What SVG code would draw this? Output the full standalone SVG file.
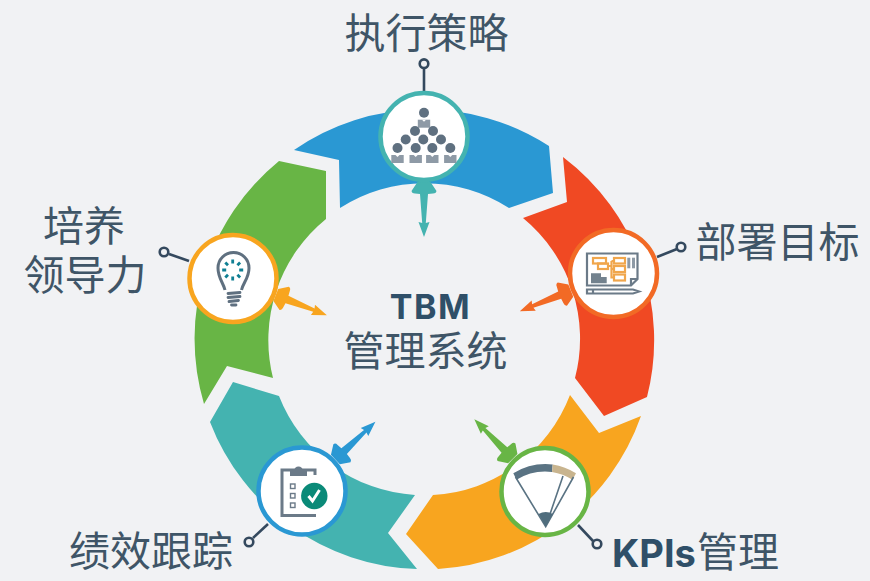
<svg xmlns="http://www.w3.org/2000/svg" xmlns:xlink="http://www.w3.org/1999/xlink" width="870" height="581" viewBox="0 0 870 581">
<style>
.t{font-family:"Noto Sans CJK SC","Noto Sans",sans-serif;font-size:41px;fill:#3f5567;text-anchor:middle}
.b{font-family:Inter,"Noto Sans",sans-serif;font-weight:700;fill:#2f4f68}
.stub{stroke:#34495e;stroke-width:2.6;fill:none}
.dot{stroke:#34495e;stroke-width:2.6;fill:#f1f2f4}
.disc{fill:#fff;stroke-width:4.5}
.head{fill:#5f7080}
.body{fill:#8e9aa6}
.g{fill:none;stroke:#6b7a88;stroke-width:2.200}
.o{fill:none;stroke:#f0a64c;stroke-width:2.200}
</style>
<defs>
<path id="arrow" d="M-6.500,0L-12.500,9Q-12,11.500-9,11.500L-4,12L-1.800,41L-5.500,40L0,55L5.500,40L1.800,41L4,12L9,11.500Q12,11.500,12.500,9L6.500,0Z"/>
<g id="person"><rect class="body" x="-6.200" y="7" width="12.400" height="8"/><path d="M-2,7L0,9L2,7Z" fill="#fff"/><circle class="head" cy="0" r="5"/></g>
</defs>
<rect width="870" height="581" fill="#f1f2f4"/>
<g id="ring">
<path fill="#2a98d3" d="M294,150A229.500,229.500,0,0,1,549,146L553,193L509,208A156,156,0,0,0,340,208L339,160Z"/>
<path fill="#f04923" d="M563,157A229.500,229.500,0,0,1,647,397L604,416L575,378A156,156,0,0,0,523,218L567,202Z"/>
<path fill="#f8a51f" d="M570,395L599,433L641,416A229.500,229.500,0,0,1,438,569L406,534L433,495A156,156,0,0,0,570,395Z"/>
<path fill="#44b3b0" d="M233,382L279,396A156,156,0,0,0,415,495L388,533L417,569A229.500,229.500,0,0,1,210,422Z"/>
<path fill="#68b545" d="M279,161L326,171L326,219A156,156,0,0,0,273,378L227,366L204,404A229.500,229.500,0,0,1,279,161Z"/>
</g>
<g id="connectors">
<use xlink:href="#arrow" href="#arrow" fill="#44b3b0" transform="translate(424,182)"/>
<use xlink:href="#arrow" href="#arrow" fill="#f26a25" transform="translate(570.800,290.600) rotate(68)"/>
<use xlink:href="#arrow" href="#arrow" fill="#68b545" transform="translate(512.800,458.600) rotate(135.600)"/>
<use xlink:href="#arrow" href="#arrow" fill="#2a98d3" transform="translate(335.400,459.400) rotate(-133.300)"/>
<use xlink:href="#arrow" href="#arrow" fill="#f8a51f" transform="translate(275.800,295) rotate(-68.300)"/>
<path class="stub" d="M424,91V68"/><circle class="dot" cx="424" cy="63.700" r="4.300"/>
<path class="stub" d="M657,257L677,249"/><circle class="dot" cx="681" cy="247" r="4.300"/>
<path class="stub" d="M578,525L593,541"/><circle class="dot" cx="597" cy="544" r="4.300"/>
<path class="stub" d="M268,524L253,538"/><circle class="dot" cx="249" cy="542" r="4.300"/>
<path class="stub" d="M189,261L169,254"/><circle class="dot" cx="164" cy="252" r="4.300"/>
</g>
<g id="node-strategy">
<circle class="disc" cx="424" cy="136.500" r="43.500" stroke="#44b3b0"/>
<use xlink:href="#person" href="#person" transform="translate(424,112.700)"/>
<use xlink:href="#person" href="#person" transform="translate(397.500,148)"/>
<use xlink:href="#person" href="#person" transform="translate(415.700,148)"/>
<use xlink:href="#person" href="#person" transform="translate(432.300,148)"/>
<use xlink:href="#person" href="#person" transform="translate(450.300,148)"/>
<g class="head"><circle cx="415" cy="131" r="5"/><circle cx="433" cy="131" r="5"/><circle cx="405.700" cy="139.500" r="5"/><circle cx="423.300" cy="139.500" r="5"/><circle cx="441" cy="139.500" r="5"/></g>
<text class="t" x="426.500" y="48">执行策略</text>
</g>
<g id="node-targets">
<circle class="disc" cx="613.500" cy="273.500" r="43.500" stroke="#f26a25"/>
<path class="g" d="M587,253.500H637.500V279L631,285.500H587Z"/><path class="g" d="M631,285.500V279H637.500"/>
<path d="M591,273.300H601V277H606.700V283.300H591Z" fill="#73828e"/>
<rect x="627.300" y="257.700" width="3" height="10.600" fill="#8e9aa6"/><rect x="632" y="257.700" width="3" height="10.600" fill="#8e9aa6"/>
<rect class="o" x="593" y="258" width="13" height="5.500"/><rect class="o" x="598" y="263.500" width="10" height="5.500"/>
<rect class="o" x="614" y="258" width="11" height="5.500"/><rect class="o" x="614" y="266" width="11" height="6"/><rect class="o" x="614" y="274.500" width="11" height="6"/>
<path class="o" d="M608,266H611.500M611.500,261V277.500H614M611.500,261H614M611.500,269H614"/>
<path class="g" d="M587,289.500H633L639,291.500L633,293.500H587Z"/><path class="g" d="M593,289.500V293.500" />
<text class="t" x="777.500" y="257">部署目标</text>
</g>
<g id="node-kpis">
<circle class="disc" cx="545" cy="491.500" r="43.500" stroke="#68b545"/>
<path d="M513.300,473.300A62,62,0,0,1,552.700,464.500L552,472A55,55,0,0,0,516.500,479.800Z" fill="#5a7383"/>
<path d="M552.700,464.500A62,62,0,0,1,576,473.300L572.500,479.800A55,55,0,0,0,552,472Z" fill="#c8b48e"/>
<path d="M515.500,477L545.700,526.700L573.500,477M545.700,526.700L563,476" fill="none" stroke="#5a7383" stroke-width="1.600"/>
<path d="M545.700,526.700L538.500,514A15,15,0,0,1,553,514Z" fill="#4f6d7d"/>
<text x="612" y="566.500" class="b" font-size="38">KPIs<tspan x="738" text-anchor="middle" style="font-family:'Noto Sans CJK SC',sans-serif;font-weight:400;font-size:41px;fill:#3f5567">管理</tspan></text>
</g>
<g id="node-tracking">
<circle class="disc" cx="302" cy="491" r="43.500" stroke="#2a98d3"/>
<path d="M315,475V470H282V515.500H316" fill="none" stroke="#6b7a88" stroke-width="3"/>
<path d="M290,476V471H294A4.500,4.500,0,0,1,303,471H307V476Z" fill="#6b7a88"/>
<g fill="none" stroke="#6b7a88" stroke-width="1.400"><rect x="290.500" y="484" width="4.500" height="4.500"/><rect x="290.500" y="493.500" width="4.500" height="4.500"/><rect x="290.500" y="503" width="4.500" height="4.500"/></g>
<circle cx="314.300" cy="496" r="13.200" fill="#0a8a78"/>
<path d="M308.500,496L312.500,501L319.500,490" fill="none" stroke="#fff" stroke-width="3"/>
<text class="t" x="151" y="566">绩效跟踪</text>
</g>
<g id="node-leadership">
<circle class="disc" cx="233" cy="278.500" r="43.500" stroke="#f8a51f"/>
<path d="M225,290C223,282,218,278,218,268A15.500,15.500,0,0,1,249,268C249,278,243.500,282,241.500,290" fill="none" stroke="#5f7080" stroke-width="3"/>
<path d="M228,293.500L240,292.500M228,297.500L240,296.500M229,301.500L238.500,300.500M231.500,305H236" fill="none" stroke="#5f7080" stroke-width="2.800" stroke-linecap="round"/>
<path d="M232.700,259.500V263.500M225.300,262.600L228,265.300M240.100,262.600L237.400,265.300M222.200,270H226.200M239.200,270H243.200M225.300,277.400L228,274.700M240.100,277.400L237.400,274.700M232.700,276.500V280.500" fill="none" stroke="#0f7f93" stroke-width="2.800"/>
<text class="t" y="241"><tspan x="84">培养</tspan><tspan x="85" y="290">领导力</tspan></text>
</g>
<g id="center">
<text class="t" y="366"><tspan class="b" x="430.500" y="318.500" font-size="34" letter-spacing="1.500">TBM</tspan><tspan x="425.500" y="366">管理系统</tspan></text>
</g>
</svg>
